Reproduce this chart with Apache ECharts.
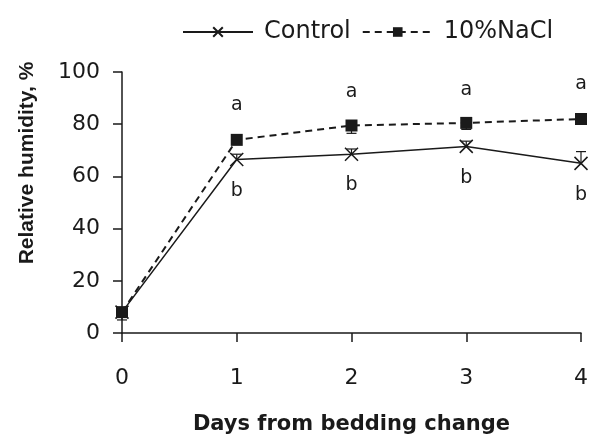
<!DOCTYPE html>
<html>
<head>
<meta charset="utf-8">
<script src="https://cdn.jsdelivr.net/npm/echarts@6/dist/echarts.min.js"></script>
<style>
  html, body { margin: 0; padding: 0; background: #fff; }
  #chart { width: 591px; height: 440px; }
</style>
</head>
<body>
<div id="chart"></div>
<script>
// 数据
var days = [0, 1, 2, 3, 4]
var controlValues = [8, 66.5, 68.5, 71.5, 65]
var naclValues = [8, 74, 79.5, 80.5, 82]
// 误差 (control 向上, NaCl 向下)
var controlErr = [0, 2, 2, 2, 4.5]
var naclErr = [3, 1.5, 3, 2.5, 1.5]
// 显著性字母
var letterA = [[1, 87.5], [2, 92.5], [3, 93], [4, 95.5]]
var letterB = [[1, 54.5], [2, 56.5], [3, 59.5], [4, 53]]
var yTicks = [0, 20, 40, 60, 80, 100]

var ink = '#1a1a1a'
var font = 'DejaVu Sans'
var vfont = 'Liberation Sans'

function pairs (vals) {
  return days.map(function (d, i) { return [d, vals[i]] })
}

function errData (vals, errs, dir) {
  return days.map(function (d, i) {
    return [d, vals[i], vals[i] + dir * errs[i]]
  })
}

function renderErr (params, api) {
  var p0 = api.coord([api.value(0), api.value(1)])
  var p1 = api.coord([api.value(0), api.value(2)])
  var half = 5
  var style = { stroke: ink, lineWidth: 1.2 }
  return {
    type: 'group',
    children: [
      { type: 'line', shape: { x1: p0[0], y1: p0[1], x2: p1[0], y2: p1[1] }, style: style },
      { type: 'line', shape: { x1: p1[0] - half, y1: p1[1], x2: p1[0] + half, y2: p1[1] }, style: style }
    ]
  }
}

function letterSeries (pts, txt) {
  return {
    type: 'scatter',
    symbol: 'circle',
    symbolSize: 0,
    itemStyle: { color: ink },
    data: pts,
    silent: true,
    z: 5,
    label: {
      show: true,
      position: 'inside',
      formatter: txt,
      color: ink,
      opacity: 1,
      fontFamily: font,
      fontSize: 19
    }
  }
}

var chart = echarts.init(document.getElementById('chart'))

var option = {
  backgroundColor: '#fff',
  animation: false,
  textStyle: { fontFamily: font, color: ink },
  legend: {
    data: ['Control', '10%NaCl'],
    top: 15,
    left: 177,
    itemWidth: 70,
    itemHeight: 12,
    itemGap: 11,
    textStyle: { fontFamily: font, fontSize: 24, color: ink, padding: [0, 0, 0, 6] }
  },
  grid: { left: 122, right: 6, top: 72, bottom: 104 },
  xAxis: {
    type: 'value',
    min: 0,
    max: 4,
    interval: 1,
    name: 'Days from bedding change',
    nameLocation: 'middle',
    nameGap: 81,
    nameTextStyle: { fontFamily: font, fontSize: 21, fontWeight: 'bold', color: ink },
    axisLine: { lineStyle: { color: ink, width: 1.5 } },
    axisTick: { show: true, length: 9, lineStyle: { color: ink, width: 1.5 } },
    axisLabel: { margin: 34, fontFamily: font, fontSize: 22, color: ink },
    splitLine: { show: false }
  },
  yAxis: {
    type: 'value',
    min: 0,
    max: 100,
    interval: 20,
    axisLine: { show: true, lineStyle: { color: ink, width: 1.5 } },
    axisTick: { show: true, length: 9, lineStyle: { color: ink, width: 1.5 } },
    axisLabel: {
      margin: 22,
      fontFamily: font,
      fontSize: 22,
      color: ink,
      formatter: function (v) { return yTicks.indexOf(v) >= 0 ? String(v) : '' }
    },
    splitLine: { show: false }
  },
  graphic: [
    {
      type: 'text',
      x: 27,
      y: 163,
      rotation: Math.PI / 2,
      style: {
        text: 'Relative humidity, %',
        fontFamily: vfont,
        fontSize: 21,
        fontWeight: 'bold',
        fill: ink,
        align: 'center',
        verticalAlign: 'middle'
      }
    }
  ],
  series: [
    {
      type: 'custom',
      renderItem: renderErr,
      data: errData(controlValues, controlErr, 1),
      z: 1,
      silent: true
    },
    {
      type: 'custom',
      renderItem: renderErr,
      data: errData(naclValues, naclErr, -1),
      z: 1,
      silent: true
    },
    {
      name: 'Control',
      type: 'line',
      data: pairs(controlValues),
      symbol: 'path://M0,0L10,10M10,0L0,10',
      symbolSize: 13,
      showSymbol: true,
      lineStyle: { color: ink, width: 1.5 },
      itemStyle: { color: ink, borderColor: ink, borderWidth: 1.5 },
      z: 3
    },
    {
      name: '10%NaCl',
      type: 'line',
      data: pairs(naclValues),
      symbol: 'rect',
      symbolSize: 12,
      showSymbol: true,
      lineStyle: { color: ink, width: 2, type: [7, 5] },
      itemStyle: { color: ink },
      z: 4
    },
    letterSeries(letterA, 'a'),
    letterSeries(letterB, 'b')
  ]
}

chart.setOption(option)
</script>
</body>
</html>
